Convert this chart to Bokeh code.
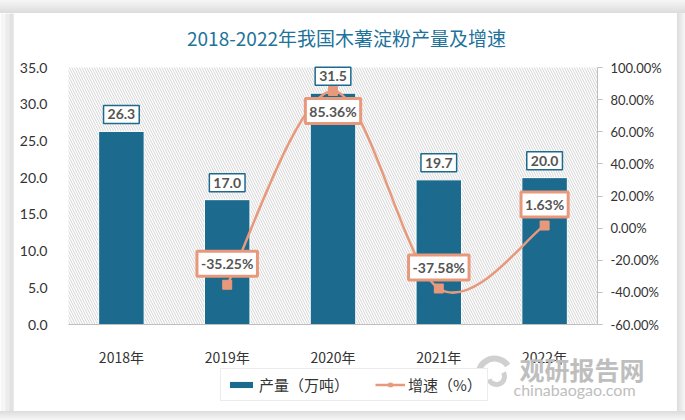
from bokeh.plotting import figure
from bokeh.models import (FactorRange, Range1d, LinearAxis, PrintfTickFormatter, FixedTicker,
                          BoxAnnotation, Label, Legend, LegendItem, Spacer)
from bokeh.layouts import column, row
from bokeh.embed import file_html
from bokeh.resources import INLINE

# ---- data ----
years = ["2018年", "2019年", "2020年", "2021年", "2022年"]
output = [26.3, 17.0, 31.5, 19.7, 20.0]
growth_years = ["2019年", "2020年", "2021年", "2022年"]
growth = [-35.25, 85.36, -37.58, 1.63]
left_ticks = [0, 5, 10, 15, 20, 25, 30, 35]
right_ticks = [-60, -40, -20, 0, 20, 40, 60, 80, 100]
title_text = "2018-2022年我国木薯淀粉产量及增速"
legend_labels = ["产量（万吨）", "增速（%）"]
watermark = ["观研报告网", "chinabaogao.com"]

BAR = "#1C6A8D"
ORANGE = "#E8997B"
TEAL = "#21729A"
TXT = "#333333"
WM = "#bebebe"
LAT = "Lato"
CJK = "Noto Sans CJK SC"

# ---- layout (page pixels) ----
PAGE_W, PAGE_H = 685, 420
CL, CT, CR, CB = 13, 13, 677, 411     # white card
W, H = CR, CB - CT                    # figure spans x 0..CR, y CT..CB
PL, PR, PT, PB = 68, 597, 67 - CT, 324 - CT   # plot area inside the figure
FW = PR - PL
CAT = FW / len(years)
FRAME_R = 2 * (PL + FW / 2)

L0, L1 = left_ticks[0], left_ticks[-1]
R0, R1 = right_ticks[0], right_ticks[-1]
kl = (PB - PT) / (L1 - L0)
kr = (PB - PT) / (R1 - R0)

fig = figure(width=W, height=H,
             x_range=FactorRange(*years, range_padding=PL / CAT, range_padding_units="absolute"),
             y_range=Range1d(L0 - (H - PB) / kl, L1 + PT / kl),
             output_backend="svg", toolbar_location=None,
             min_border_left=0, min_border_right=int(W - FRAME_R), min_border_top=0, min_border_bottom=0)
fig.outline_line_color = None
fig.xgrid.grid_line_color = None
fig.ygrid.grid_line_color = None
fig.extra_y_ranges = {"g": Range1d(R0 - (H - PB) / kr, R1 + PT / kr)}

def cx(cat):  # synthetic x of a category centre
    return years.index(cat) + 0.5

def fx(px):  # page px -> synthetic x
    return (px - PL) / CAT

def fy(py):  # page px (from top) -> left-axis value
    return L1 - (py - CT - PT) / kl

# grey surround on the left edge of the card (inside the frame), soft shadow
for a, c in [(0, "#f6f6f6"), (5, "#ececec"), (9, "#e2e2e2")]:
    fig.add_layout(BoxAnnotation(left=fx(a), right=fx(CL), fill_color=c, fill_alpha=1,
                                 line_color=None, level="underlay"))

# hatched plot area
fig.add_layout(BoxAnnotation(left=0, right=len(years), bottom=L0, top=L1, fill_alpha=0,
                             line_color=None, hatch_pattern="\\", hatch_color="#d4d4d4",
                             hatch_scale=5, hatch_weight=1, level="underlay"))

# axes
ya = fig.yaxis[0]
ya.fixed_location = 0
ya.ticker = FixedTicker(ticks=left_ticks)
ya.formatter = PrintfTickFormatter(format="%.1f")
ya.bounds = (L0, L1)
ya.axis_line_color = None
ya.major_tick_line_color = None
ya.minor_tick_line_color = None
ya.major_label_text_font = LAT
ya.major_label_text_font_size = "14px"
ya.major_label_text_color = TXT
ya.major_label_standoff = 15

ra = LinearAxis(y_range_name="g", ticker=FixedTicker(ticks=right_ticks),
                formatter=PrintfTickFormatter(format="%.2f%%"), bounds=(R0, R1),
                fixed_location=len(years))
ra.axis_line_color = "#bfbfbf"
ra.major_tick_line_color = "#bfbfbf"
ra.major_tick_out = 5
ra.major_tick_in = 0
ra.minor_tick_line_color = None
ra.major_label_text_font = LAT
ra.major_label_text_font_size = "13px"
ra.major_label_text_color = TXT
ra.major_label_standoff = 8
fig.add_layout(ra, "right")

xa = fig.xaxis[0]
xa.fixed_location = L0
xa.bounds = (0, len(years))
xa.axis_line_color = "#bfbfbf"
xa.major_tick_line_color = None
xa.major_label_text_font = CJK
xa.major_label_text_font_size = "14px"
xa.major_label_text_color = TXT
xa.major_label_standoff = 16

# bars
bars = fig.vbar(x=years, top=output, width=0.43, fill_color=BAR, line_color="white", line_width=1)

# smoothed line (Excel-like bezier between points)
pts = [(cx(y), g) for y, g in zip(growth_years, growth)]
n = len(pts)
x0 = []; y0 = []; x1 = []; y1 = []; cx0 = []; cy0 = []; cx1 = []; cy1 = []
for i in range(n - 1):
    pa = pts[max(i - 1, 0)]; pb = pts[i]; pc = pts[i + 1]; pd = pts[min(i + 2, n - 1)]
    x0.append(pb[0]); y0.append(pb[1]); x1.append(pc[0]); y1.append(pc[1])
    cx0.append(pb[0] + (pc[0] - pa[0]) / 6); cy0.append(pb[1] + (pc[1] - pa[1]) / 6)
    cx1.append(pc[0] - (pd[0] - pb[0]) / 6); cy1.append(pc[1] - (pd[1] - pb[1]) / 6)
fig.bezier(x0=x0, y0=y0, x1=x1, y1=y1, cx0=cx0, cy0=cy0, cx1=cx1, cy1=cy1,
           line_color=ORANGE, line_width=2.5, y_range_name="g")
sc = fig.scatter(x=growth_years, y=growth, marker="square", size=9, fill_color=ORANGE,
                 line_color=ORANGE, y_range_name="g")
# one-point line: draws nothing, only gives the legend its line swatch
leg_line = fig.line(x=growth_years[:1], y=growth[:1], line_color=ORANGE, line_width=2.5,
                    y_range_name="g")

# data labels
for yr, v in zip(years, output):
    fig.add_layout(Label(x=cx(yr), y=v, y_offset=17, text=f"{v:.1f}", text_align="center",
                         text_baseline="middle", text_font=LAT, text_font_style="bold",
                         text_font_size="14px", text_color="#555555", padding=4,
                         background_fill_color="white", border_line_color=BAR,
                         border_line_width=1.5))
g_offsets = {"2020年": -20}
for yr, v in zip(growth_years, growth):
    fig.add_layout(Label(x=cx(yr), y=v, y_range_name="g", y_offset=g_offsets.get(yr, 21),
                         text=f"{v:.2f}%", text_align="center", text_baseline="middle",
                         text_font=LAT, text_font_style="bold", text_font_size="14px",
                         text_color="#555555", padding=4, background_fill_color="white",
                         border_line_color=ORANGE, border_line_width=3))

# title
fig.add_layout(Label(x=fx(346), y=fy(37), text=title_text, text_align="center",
                     text_baseline="middle", text_font=CJK, text_font_size="19px",
                     text_color=TEAL))

# watermark (logo swirl + text)
fig.arc(x=[fx(494)], y=[fy(374)], radius=16, radius_units="screen", start_angle=0.6,
        end_angle=3.9, line_color="#d0d0d0", line_width=6)
fig.arc(x=[fx(496)], y=[fy(376)], radius=8, radius_units="screen", start_angle=3.5,
        end_angle=6.8, line_color="#d0d0d0", line_width=5)
fig.add_layout(Label(x=fx(519), y=fy(368), text=watermark[0], text_align="left",
                     text_baseline="middle", text_font=CJK, text_font_style="bold",
                     text_font_size="25px", text_color=WM))
fig.add_layout(Label(x=fx(513), y=fy(389), text=watermark[1], text_align="left",
                     text_baseline="middle", text_font=LAT, text_font_size="16px",
                     text_color=WM))

# legend
legend = Legend(items=[LegendItem(label=legend_labels[0], renderers=[bars]),
                       LegendItem(label=legend_labels[1], renderers=[leg_line, sc])],
                location=(220, CB - 401), orientation="horizontal",
                border_line_color="#d9d9d9", padding=5, spacing=26, glyph_width=30,
                glyph_height=9, label_standoff=3, label_text_font=CJK,
                label_text_font_size="15px", label_text_color=TXT, margin=0,
                background_fill_color="white", background_fill_alpha=1)
fig.add_layout(legend)

# grey page surround (top, right, bottom) with a soft shadow toward the card
def shade(direction, w, h):
    return Spacer(width=w, height=h,
                  styles={"background": f"linear-gradient({direction}, #f7f7f7, #dcdcdc)"})

p = column(
    shade("to bottom", PAGE_W, CT),
    row(fig, shade("to left", PAGE_W - CR, H)),
    shade("to top", PAGE_W, PAGE_H - CB),
)

open("out.html", "w").write(file_html(p, INLINE))
